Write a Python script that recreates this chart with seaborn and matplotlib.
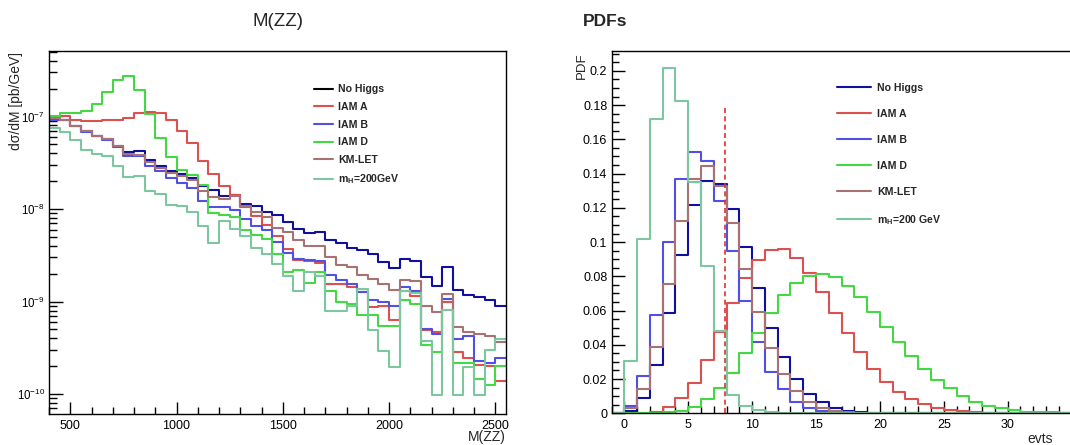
import numpy as np
import pandas as pd
import matplotlib
matplotlib.use("Agg")
import matplotlib.pyplot as plt
import seaborn as sns
from matplotlib.lines import Line2D
from matplotlib.ticker import MultipleLocator, LogLocator, NullFormatter, FuncFormatter, FixedLocator

# ---------------- data ----------------
series_labels_left = ["No Higgs", "IAM A", "IAM B", "IAM D", "KM-LET", r"m$_{\mathbf{H}}$=200GeV"]
series_labels_right = ["No Higgs", "IAM A", "IAM B", "IAM D", "KM-LET", r"m$_{\mathbf{H}}$=200 GeV"]

# M(ZZ) histogram: bin edges in GeV (50 GeV bins from 400 to 2550)
mzz_edges = np.arange(400, 2551, 50)
mzz_no_higgs = [9.06e-8, 9.06e-8, 7.93e-8, 6.89e-8, 6.18e-8, 5.69e-8, 4.82e-8, 4.12e-8, 4.19e-8, 3.41e-8,
                2.89e-8, 2.59e-8, 2.41e-8, 2.16e-8, 1.79e-8, 1.62e-8, 1.40e-8, 1.43e-8, 1.13e-8, 1.09e-8,
                9.2e-9, 8.7e-9, 7.2e-9, 6.1e-9, 5.5e-9, 5.6e-9, 4.6e-9, 4.3e-9, 3.8e-9, 3.6e-9,
                3.3e-9, 2.66e-9, 2.31e-9, 2.89e-9, 2.72e-9, 1.85e-9, 1.46e-9, 2.35e-9, 1.35e-9, 1.19e-9,
                1.11e-9, 1.05e-9, 9.06e-10]
mzz_iam_a = [9.83e-8, 1.0e-7, 9.2e-8, 8.83e-8, 8.83e-8, 9.06e-8, 9.06e-8, 9.59e-8, 1.086e-7, 1.12e-7,
             1.10e-7, 9.2e-8, 7.0e-8, 5.16e-8, 3.27e-8, 2.41e-8, 1.79e-8, 1.43e-8, 1.05e-8, 8.5e-9,
             6.8e-9, 5.1e-9, 3.7e-9, 2.84e-9, 2.75e-9, 2.62e-9, 1.53e-9, 1.56e-9, 1.44e-9, 1.26e-9,
             8.8e-10, 8.9e-10, 6.4e-10, 1.29e-9, 1.16e-9, 4.9e-10, 4.75e-10, 1.0e-9, 2.84e-10, 2.43e-10,
             2.09e-10, 2.0e-10, 1.38e-10]
mzz_iam_b = [9.06e-8, 9.06e-8, 7.93e-8, 6.72e-8, 6.18e-8, 5.6e-8, 4.67e-8, 3.76e-8, 3.70e-8, 2.89e-8,
             2.55e-8, 2.16e-8, 1.91e-8, 1.69e-8, 1.21e-8, 1.05e-8, 1.04e-8, 9.8e-9, 7.9e-9, 6.5e-9,
             5.9e-9, 4.4e-9, 3.35e-9, 2.89e-9, 2.79e-9, 2.77e-9, 1.92e-9, 1.70e-9, 1.53e-9, 1.26e-9,
             1.03e-9, 9.8e-10, 8.9e-10, 1.43e-9, 1.29e-9, 5.1e-10, 4.5e-10, 1.07e-9, 3.9e-10, 4.3e-10,
             2.27e-10, 2.18e-10, 2.47e-10]
mzz_iam_d = [1.02e-7, 1.086e-7, 1.086e-7, 1.15e-7, 1.37e-7, 1.82e-7, 2.45e-7, 2.75e-7, 1.94e-7, 1.07e-7,
             5.84e-8, 3.61e-8, 2.62e-8, 2.35e-8, 1.83e-8, 9.05e-9, 8.7e-9, 8.3e-9, 6.0e-9, 5.3e-9,
             4.7e-9, 3.27e-9, 2.09e-9, 2.2e-9, 1.59e-9, 2.1e-9, 1.29e-9, 1.0e-9, 9.5e-10, 7.1e-10,
             7.1e-10, 5.5e-10, 5.5e-10, 1.05e-9, 9.5e-10, 3.4e-10, 2.84e-10, 8.2e-10, 2.18e-10, 2.18e-10,
             1.44e-10, 1.24e-10, 2.0e-10]
mzz_km_let = [9.59e-8, 9.06e-8, 7.93e-8, 6.89e-8, 6.18e-8, 5.69e-8, 4.82e-8, 3.96e-8, 3.86e-8, 3.19e-8,
              2.77e-8, 2.45e-8, 2.25e-8, 2.07e-8, 1.55e-8, 1.34e-8, 1.28e-8, 1.37e-8, 1.09e-8, 9.2e-9,
              8.3e-9, 6.3e-9, 5.6e-9, 4.6e-9, 4.0e-9, 4.0e-9, 3.03e-9, 2.51e-9, 2.37e-9, 1.92e-9,
              1.77e-9, 1.56e-9, 1.35e-9, 1.73e-9, 1.66e-9, 9.06e-10, 7.7e-10, 1.22e-9, 5.3e-10, 4.7e-10,
              4.5e-10, 4.3e-10, 3.64e-10]
mzz_mh200 = [7.48e-8, 6.72e-8, 5.6e-8, 4.37e-8, 3.96e-8, 3.70e-8, 2.89e-8, 2.21e-8, 2.25e-8, 1.55e-8,
             1.46e-8, 1.11e-8, 1.07e-8, 9.4e-9, 6.5e-9, 4.3e-9, 7.4e-9, 6.1e-9, 5.1e-9, 3.8e-9,
             3.3e-9, 2.57e-9, 1.88e-9, 1.29e-9, 2.1e-9, 1.88e-9, 7.9e-10, 7.9e-10, 9.06e-10, 1.37e-9,
             4.9e-10, 2.91e-10, 1.97e-10, 1.31e-9, 1.24e-9, 3.73e-10, 9.9e-11, 8.2e-10, 9.9e-11, 1.97e-10,
             9.9e-11, 2.98e-10, 3.96e-10]

# PDFs of number of events: unit bins from -1 to 40
evts_edges = np.arange(-1, 41, 1)
pdf_no_higgs = [0, 0.0016, 0.0088, 0.0282, 0.0584, 0.0924, 0.1216, 0.1356, 0.1342, 0.1196, 0.0973,
                0.073, 0.050, 0.0331, 0.020, 0.0113, 0.0064, 0.0033, 0.0016, 0.0008, 0.0003,
                0, 0, 0, 0, 0, 0, 0, 0, 0, 0, 0, 0, 0, 0, 0, 0, 0, 0, 0, 0]
pdf_iam_a = [0, 0, 0, 0.0008, 0.0035, 0.0088, 0.0179, 0.0311, 0.0477, 0.0642, 0.0792,
             0.0895, 0.0953, 0.0957, 0.0905, 0.0821, 0.0706, 0.0584, 0.0471, 0.036, 0.0259,
             0.0181, 0.0126, 0.0082, 0.0053, 0.0029, 0.0019, 0.0012, 0.0007, 0.0004, 0.0002,
             0.0001, 0.0001, 0, 0, 0, 0, 0, 0, 0, 0]
pdf_iam_b = [0, 0.0043, 0.022, 0.0572, 0.100, 0.1366, 0.1527, 0.1475, 0.1239, 0.0949, 0.0656,
             0.0418, 0.0243, 0.014, 0.0068, 0.0029, 0.0012, 0.0005, 0.0002, 0, 0,
             0, 0, 0, 0, 0, 0, 0, 0, 0, 0, 0, 0, 0, 0, 0, 0, 0, 0, 0, 0]
pdf_iam_d = [0, 0, 0, 0.0003, 0.0008, 0.0014, 0.0035, 0.0082, 0.0146, 0.0237, 0.035,
             0.0471, 0.0584, 0.0691, 0.0763, 0.0802, 0.0813, 0.0794, 0.0743, 0.0681, 0.0593,
             0.0506, 0.0418, 0.0335, 0.0261, 0.0195, 0.0146, 0.0101, 0.0068, 0.0043, 0.0029,
             0.0019, 0.001, 0.0008, 0.0005, 0.0003, 0.0002, 0.0001, 0.0001, 0, 0]
pdf_km_let = [0, 0.0029, 0.014, 0.0389, 0.0755, 0.1125, 0.1368, 0.1444, 0.1329, 0.111, 0.084,
              0.0593, 0.0383, 0.023, 0.0132, 0.0068, 0.0031, 0.0014, 0.0006, 0.0002, 0,
              0, 0, 0, 0, 0, 0, 0, 0, 0, 0, 0, 0, 0, 0, 0, 0, 0, 0, 0, 0]
pdf_mh200 = [0, 0.0305, 0.1016, 0.172, 0.2014, 0.1825, 0.1352, 0.0862, 0.048, 0.0107, 0.0043,
             0.0019, 0.0005, 0, 0, 0, 0, 0, 0, 0, 0,
             0, 0, 0, 0, 0, 0, 0, 0, 0, 0, 0, 0, 0, 0, 0, 0, 0, 0, 0, 0]
pdf_tick_values = [0, 5, 10, 15, 20, 25, 30]
cut_value = 7.9
cut_top = 0.179

# ---------------- style ----------------
colors = ["#10109e", "#dc5050", "#5050e4", "#45d845", "#a87272", "#7cc6a0"]
legend_left_colors = ["#000000"] + colors[1:]

sns.set_style("white")
plt.rcParams["font.family"] = ["Liberation Sans", "DejaVu Sans"]
plt.rcParams["mathtext.fontset"] = "custom"
plt.rcParams["mathtext.rm"] = "Liberation Sans"
plt.rcParams["mathtext.it"] = "Liberation Sans:italic"
plt.rcParams["mathtext.bf"] = "Liberation Sans:bold"
plt.rcParams["mathtext.sf"] = "Liberation Sans"
plt.rcParams["axes.edgecolor"] = "black"
plt.rcParams["axes.linewidth"] = 1.0

fig = plt.figure(figsize=(10.7, 4.45), dpi=100)
W, H = 1070.0, 445.0
ax1 = fig.add_axes([49 / W, 1 - 414 / H, (506 - 49) / W, (414 - 51) / H])
ax2 = fig.add_axes([611.5 / W, 1 - 413.3 / H, (1135.5 - 611.5) / W, (413.3 - 51) / H])

lw = 1.5


def draw_hist(ax, edges, vals, color):
    edges = np.asarray(edges, dtype=float)
    centers = (edges[:-1] + edges[1:]) / 2
    df = pd.DataFrame({"x": centers, "w": np.asarray(vals, dtype=float)})
    sns.histplot(data=df, x="x", weights="w", bins=edges.tolist(), element="step", fill=False,
                 color=color, linewidth=lw, ax=ax)


# ---------- left panel ----------
for vals, c in zip([mzz_no_higgs, mzz_iam_a, mzz_iam_b, mzz_iam_d, mzz_km_let, mzz_mh200], colors):
    draw_hist(ax1, mzz_edges, vals, c)
ax1.set_yscale("log")
ax1.set_xlim(400, 2550)
ax1.set_ylim(6.1e-11, 5.1e-7)
ax1.set_ylabel("")
ax1.set_xlabel("")
ax1.xaxis.set_major_locator(MultipleLocator(500))
ax1.xaxis.set_minor_locator(MultipleLocator(100))
ax1.yaxis.set_major_locator(FixedLocator([1e-10, 1e-9, 1e-8, 1e-7]))
ax1.yaxis.set_minor_locator(LogLocator(base=10, subs=np.arange(2, 10), numticks=20))
ax1.yaxis.set_minor_formatter(NullFormatter())
ax1.tick_params(which="both", direction="in", left=True, bottom=True, top=False, right=False,
                colors="black")
ax1.tick_params(axis="x", labelsize=9)
ax1.tick_params(axis="y", labelsize=8.3)
ax1.tick_params(axis="y", which="major", length=10, width=1, pad=3)
ax1.tick_params(axis="y", which="minor", length=5.5, width=1)
ax1.tick_params(axis="x", which="major", length=9, width=1, pad=4)
ax1.tick_params(axis="x", which="minor", length=5, width=1)

h1 = [Line2D([], [], color=c, lw=lw) for c in legend_left_colors]
ax1.legend(h1, series_labels_left, loc="upper left", bbox_to_anchor=(0.58, 0.908),
           frameon=False, prop={"weight": "bold", "size": 7.6}, handlelength=1.8,
           handletextpad=0.45, labelspacing=0.72, borderpad=0, borderaxespad=0)

fig.text(278 / W, 1 - 22 / H, "M(ZZ)", ha="center", va="center", fontsize=13.5)
fig.text(16 / W, 1 - 52 / H, "d\u03c3/dM [pb/GeV]", rotation=90, ha="center", va="top", fontsize=10)
fig.text(506 / W, 1 - 430 / H, "M(ZZ)", ha="right", va="top", fontsize=10)

# ---------- right panel ----------
for vals, c in zip([pdf_no_higgs, pdf_iam_a, pdf_iam_b, pdf_iam_d, pdf_km_let, pdf_mh200], colors):
    draw_hist(ax2, evts_edges, vals, c)
ax2.plot([cut_value, cut_value], [0, cut_top], color="#e03030", lw=1.2, ls=(0, (3, 2)))
ax2.set_xlim(-1, 40)
ax2.set_ylim(0, 0.2116)
ax2.set_ylabel("")
ax2.set_xlabel("")
ax2.spines["right"].set_visible(False)
ax2.xaxis.set_major_locator(FixedLocator(pdf_tick_values))
ax2.xaxis.set_minor_locator(MultipleLocator(1))
ax2.yaxis.set_major_locator(MultipleLocator(0.02))
ax2.yaxis.set_minor_locator(MultipleLocator(0.005))
ax2.yaxis.set_major_formatter(FuncFormatter(lambda v, p: ("%g" % round(v, 3))))
ax2.tick_params(which="both", direction="in", left=True, bottom=True, top=False, right=False,
                labelsize=9, colors="black")
ax2.tick_params(axis="y", which="major", length=9, width=1, pad=3)
ax2.tick_params(axis="y", which="minor", length=4.8, width=1)
ax2.tick_params(axis="x", which="major", length=9, width=1, pad=4)
ax2.tick_params(axis="x", which="minor", length=5, width=1)

h2 = [Line2D([], [], color=c, lw=lw) for c in colors]
ax2.legend(h2, series_labels_right, loc="upper left", bbox_to_anchor=(0.43, 0.913),
           frameon=False, prop={"weight": "bold", "size": 7.6}, handlelength=3.2,
           handletextpad=0.64, labelspacing=1.52, borderpad=0, borderaxespad=0)

fig.text(582.7 / W, 1 - 22 / H, "PDFs", ha="left", va="center", fontsize=12.5, fontweight="bold")
fig.text(581.7 / W, 1 - 52 / H, "PDF", rotation=90, ha="center", va="top", fontsize=9.5)
fig.text(1027 / W, 1 - 443 / H, "evts", ha="left", va="baseline", fontsize=10)

fig.savefig("out.png", dpi=100)
